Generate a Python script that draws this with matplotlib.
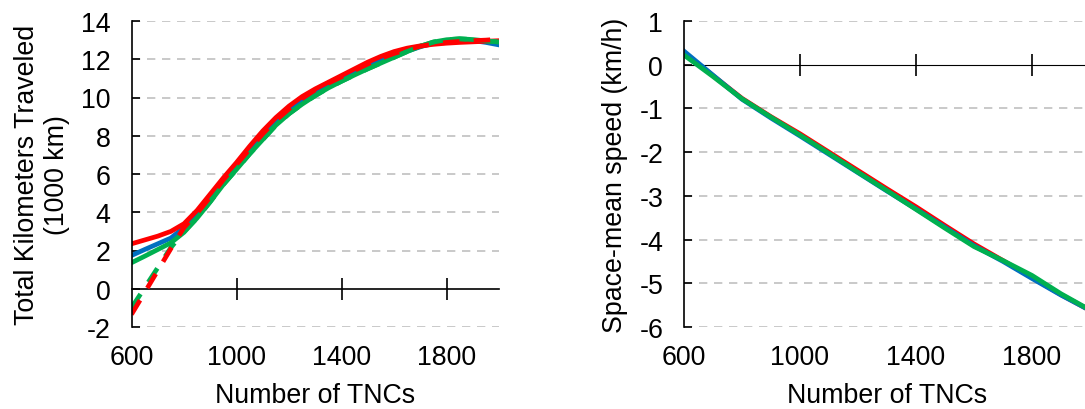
import matplotlib
matplotlib.use("Agg")
import matplotlib.pyplot as plt

plt.rcParams["font.family"] = ["Liberation Sans", "DejaVu Sans"]
plt.rcParams["font.size"] = 19.3
plt.rcParams["axes.unicode_minus"] = False

# -----------------------------
# Data
# -----------------------------
tncs = [600, 650, 700, 750, 800, 850, 900, 950, 1000, 1050, 1100, 1150, 1200, 1250, 1300,
        1350, 1400, 1450, 1500, 1550, 1600, 1650, 1700, 1750, 1800, 1850, 1900, 1950, 2000]

km_red = [2.35, 2.55, 2.75, 3.0, 3.4, 4.1, 4.95, 5.8, 6.6, 7.45, 8.25, 8.95, 9.55, 10.05, 10.45,
          10.8, 11.15, 11.5, 11.85, 12.15, 12.4, 12.58, 12.7, 12.78, 12.84, 12.88, 12.91, 12.94, 12.97]
km_blue = [1.74, 2.05, 2.35, 2.65, 3.2, 3.95, 4.8, 5.7, 6.5, 7.3, 8.1, 8.8, 9.37, 9.9, 10.35,
           10.7, 11.03, 11.35, 11.65, 11.95, 12.2, 12.42, 12.65, 12.85, 12.97, 13.02, 12.98, 12.88, 12.75]
km_green = [1.36, 1.7, 2.05, 2.4, 2.95, 3.7, 4.55, 5.45, 6.24, 7.05, 7.8, 8.55, 9.15, 9.65, 10.1,
            10.5, 10.85, 11.18, 11.5, 11.8, 12.1, 12.4, 12.68, 12.9, 13.02, 13.07, 13.03, 12.96, 12.9]

km_red_dash = [-1.34, -0.2, 0.95, 2.1, 3.2, 3.95, 4.8, 5.7, 6.5, 7.3, 8.1, 8.8, 9.4, 9.95, 10.4,
               10.75, 11.08, 11.42, 11.75, 12.05, 12.3, 12.5, 12.68, 12.8, 12.88, 12.93, 12.97, 13.0, 13.05]
km_green_dash = [-1.0, 0.05, 1.1, 2.15, 3.0, 3.7, 4.55, 5.45, 6.24, 7.05, 7.8, 8.55, 9.15, 9.65, 10.1,
                 10.5, 10.85, 11.18, 11.5, 11.8, 12.1, 12.4, 12.68, 12.9, 13.02, 13.07, 13.03, 12.96, 12.9]

speed_x = [600, 700, 800, 900, 1000, 1100, 1200, 1300, 1400, 1500, 1600, 1700, 1800, 1900, 2000]
speed_red = [0.28, -0.25, -0.77, -1.19, -1.58, -2.0, -2.42, -2.84, -3.25, -3.68, -4.1, -4.48, -4.87, -5.26, -5.62]
speed_blue = [0.31, -0.24, -0.79, -1.22, -1.63, -2.05, -2.47, -2.89, -3.3, -3.72, -4.14, -4.5, -4.89, -5.27, -5.62]
speed_green = [0.22, -0.27, -0.78, -1.2, -1.61, -2.03, -2.46, -2.88, -3.31, -3.74, -4.16, -4.48, -4.82, -5.24, -5.61]

RED = "#ff0000"
BLUE = "#0070c0"
GREEN = "#00b050"

fig = plt.figure(figsize=(10.85, 4.10), dpi=100)
ax1 = fig.add_axes([131.5 / 1085, 82 / 410, 367.5 / 1085, 306 / 410])
ax2 = fig.add_axes([684 / 1085, 82 / 410, 406 / 1085, 306 / 410])


def style_axes(ax, ylim, yticks, xlim, xticks):
    ax.set_xlim(*xlim)
    ax.set_ylim(*ylim)
    ax.set_yticks(yticks)
    ax.set_xticks(xticks)
    for s in ["top", "right", "bottom"]:
        ax.spines[s].set_visible(False)
    ax.spines["left"].set_linewidth(1.2)
    ax.tick_params(axis="y", direction="in", length=6, width=1.2, pad=15)
    ax.tick_params(axis="x", length=0, pad=12)
    for y in yticks:
        if y != 0:
            ax.axhline(y, color="#c0c0c0", lw=1.2, ls=(0, (5, 4)), zorder=0)
    # horizontal axis line through zero with crossing ticks
    frac = (0 - ylim[0]) / (ylim[1] - ylim[0])
    sec = ax.secondary_xaxis(frac)
    sec.set_xticks([t for t in xticks if t != xlim[0]])
    sec.tick_params(direction="inout", length=16, width=1.2, labelbottom=False, labeltop=False)
    sec.spines["bottom"].set_linewidth(1.2)
    ax.set_xlabel("Number of TNCs", labelpad=9)


# -----------------------------
# Left: total kilometers traveled
# -----------------------------
style_axes(ax1, (-2, 14), range(-2, 15, 2), (600, 2000), [600, 1000, 1400, 1800])
ax1.plot(tncs, km_blue, color=BLUE, lw=3.4)
ax1.plot(tncs, km_red, color=RED, lw=3.4)
ax1.plot(tncs, km_green, color=GREEN, lw=3.4)
ax1.plot(tncs, km_green_dash, color=GREEN, lw=3.4, ls=(0, (3.5, 3)))
ax1.plot(tncs, km_red_dash, color=RED, lw=3.4, ls=(0, (3.5, 3)))
ax1.set_ylabel("Total Kilometers Traveled\n(1000 km)", labelpad=8, linespacing=1.2)

# -----------------------------
# Right: space-mean speed
# -----------------------------
style_axes(ax2, (-6, 1), range(-6, 2), (600, 2000), [600, 1000, 1400, 1800])
ax2.plot(speed_x, speed_red, color=RED, lw=3.4)
ax2.plot(speed_x, speed_blue, color=BLUE, lw=3.4)
ax2.plot(speed_x, speed_green, color=GREEN, lw=3.4)
ax2.set_ylabel("Space-mean speed (km/h)", labelpad=8)

fig.savefig("out.png", dpi=100)
